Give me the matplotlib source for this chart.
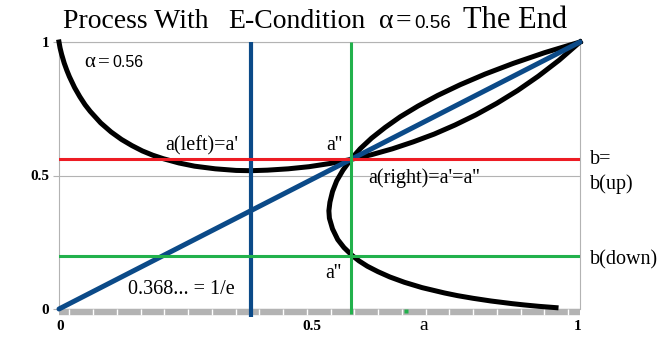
import matplotlib.pyplot as plt
from matplotlib.ticker import FixedLocator
import numpy as np

plt.rcParams['font.family'] = ['Liberation Serif', 'DejaVu Sans']

# values
alpha = 0.56
inv_e = 0.368
b_up = 0.56
b_down = 0.2
a_green = 0.56
green_tick_x = [0.666]

# left curve: starts at (0, 1), minimum near 1/e, back to (1, 1)
curve_x = [0.0, 0.002, 0.005, 0.01, 0.015, 0.02, 0.03, 0.04, 0.05, 0.06, 0.08, 0.10,
           0.12, 0.14, 0.16, 0.18, 0.20, 0.23, 0.26, 0.30, 0.34, 0.368, 0.40, 0.44,
           0.48, 0.52, 0.56, 0.60, 0.64, 0.68, 0.72, 0.76, 0.80, 0.84, 0.88, 0.92,
           0.96, 1.0]
curve_y = [1.0, 0.978, 0.954, 0.921, 0.894, 0.870, 0.829, 0.795, 0.765, 0.740, 0.697, 0.663,
           0.635, 0.612, 0.592, 0.576, 0.563, 0.547, 0.535, 0.525, 0.519, 0.518, 0.520, 0.525,
           0.533, 0.545, 0.560, 0.578, 0.600, 0.626, 0.655, 0.689, 0.727, 0.770, 0.818, 0.872,
           0.932, 1.0]

# mirrored "C" curve: lower end near (0.954, 0.005) up to (1, 1)
c_x = [0.954, 0.921, 0.894, 0.870, 0.829, 0.795, 0.765, 0.740, 0.697, 0.663,
       0.635, 0.612, 0.592, 0.576, 0.563, 0.547, 0.535, 0.525, 0.519, 0.518, 0.520, 0.525,
       0.533, 0.545, 0.560, 0.578, 0.600, 0.626, 0.655, 0.689, 0.727, 0.770, 0.818, 0.872,
       0.932, 1.0]
c_y = [0.005, 0.01, 0.015, 0.02, 0.03, 0.04, 0.05, 0.06, 0.08, 0.10,
       0.12, 0.14, 0.16, 0.18, 0.20, 0.23, 0.26, 0.30, 0.34, 0.368, 0.40, 0.44,
       0.48, 0.52, 0.56, 0.60, 0.64, 0.68, 0.72, 0.76, 0.80, 0.84, 0.88, 0.92,
       0.96, 1.0]

diag_x = [0.0, 1.0]
diag_y = [0.0, 1.0]

y_ticks = [0, 0.5, 1]
y_labels = ['0', '0.5', '1']

W, H = 668, 340
BLUE = '#0b4a88'
RED = '#ed1c24'
GREEN = '#22b14c'
GRAY = '#b3b3b3'


def px(x, y):
    return x / W, 1 - y / H


fig = plt.figure(figsize=(W / 100, H / 100), dpi=100)
ax = fig.add_axes([59 / W, 31 / H, 521 / W, 267 / H])
ax.set_xlim(0, 1)
ax.set_ylim(0, 1)

# frame
for side in ['left', 'top', 'right']:
    ax.spines[side].set_color(GRAY)
    ax.spines[side].set_linewidth(0.8)
ax.spines['bottom'].set_color(GRAY)
ax.spines['bottom'].set_linewidth(4.6)
ax.spines['bottom'].set_capstyle('butt')
ax.spines['bottom'].set_position(('outward', 2.4))
ax.spines['bottom'].set_zorder(0.3)

ax.set_yticks(y_ticks)
ax.set_yticklabels(y_labels, fontweight='bold', fontsize=11)
ax.tick_params(axis='y', length=4.5, width=0.8, color=GRAY, pad=2.5)
ax.yaxis.grid(True, color=GRAY, linewidth=0.8)
ax.set_axisbelow(True)

ax.set_xticks([])
ax.xaxis.set_minor_locator(FixedLocator(np.arange(0.0198, 0.99, 0.0456)))
ax.tick_params(axis='x', which='minor', direction='inout', length=4, width=1.0,
               color='white')

# curves and lines
ax.plot(curve_x, curve_y, color='black', lw=3.6, clip_on=False, zorder=3)
ax.plot(c_x, c_y, color='black', lw=3.6, clip_on=False, zorder=3)
ax.plot(diag_x, diag_y, color=BLUE, lw=3.6, clip_on=False, zorder=4,
        solid_capstyle='round')
ax.plot([inv_e, inv_e], [-0.03, 1], color=BLUE, lw=3.0, clip_on=False, zorder=5,
        solid_capstyle='butt')
ax.axhline(b_up, color=RED, lw=2.2, zorder=6)
ax.axhline(b_down, color=GREEN, lw=2.2, zorder=6)
ax.plot([a_green, a_green], [-0.02, 1], color=GREEN, lw=2.2, clip_on=False, zorder=7,
        solid_capstyle='butt')
ax.plot(green_tick_x, [-0.006] * len(green_tick_x), 's', color=GREEN, ms=3,
        mec='none', clip_on=False, zorder=8)

# title pieces
ty = 28
fig.text(*px(63, ty), 'Process With', fontsize=20, va='baseline')
fig.text(*px(228, ty), 'E-Condition', fontsize=20, va='baseline')
fig.text(*px(379, ty), 'α', fontsize=20, va='baseline')
fig.text(*px(396, ty), '=', fontsize=20, va='baseline')
fig.text(*px(414, ty), '0.56', fontsize=13.5, va='baseline', family='Liberation Sans')
fig.text(*px(463, ty), 'The End', fontsize=22, va='baseline')

# alpha inside the plot
fig.text(*px(84, 67), 'α', fontsize=15, va='baseline')
fig.text(*px(98, 67), '=', fontsize=15, va='baseline')
fig.text(*px(112, 67), '0.56', fontsize=11.5, va='baseline', family='Liberation Sans')

# annotations
fs = 14.5
fig.text(*px(165, 146), "a(left)=a'", fontsize=fs, va='center')
fig.text(*px(326, 146), "a''", fontsize=fs, va='center')
fig.text(*px(368, 178), "a(right)=a'=a''", fontsize=fs, va='center')
fig.text(*px(590, 160), 'b=', fontsize=fs, va='center')
fig.text(*px(590, 184), 'b(up)', fontsize=fs, va='center')
fig.text(*px(590, 260), 'b(down)', fontsize=fs, va='center')
fig.text(*px(325, 273), "a''", fontsize=fs, va='center')
fig.text(*px(128, 290), '0.368... = 1/e', fontsize=fs, va='center')

# x axis labels
fig.text(*px(60, 327), '0', fontsize=11, fontweight='bold', ha='center', va='center')
fig.text(*px(312, 327), '0.5', fontsize=11, fontweight='bold', ha='center', va='center')
fig.text(*px(578, 327), '1', fontsize=11, fontweight='bold', ha='center', va='center')
fig.text(*px(424, 326), 'a', fontsize=14, ha='center', va='center')

fig.savefig('out.png', dpi=100)
